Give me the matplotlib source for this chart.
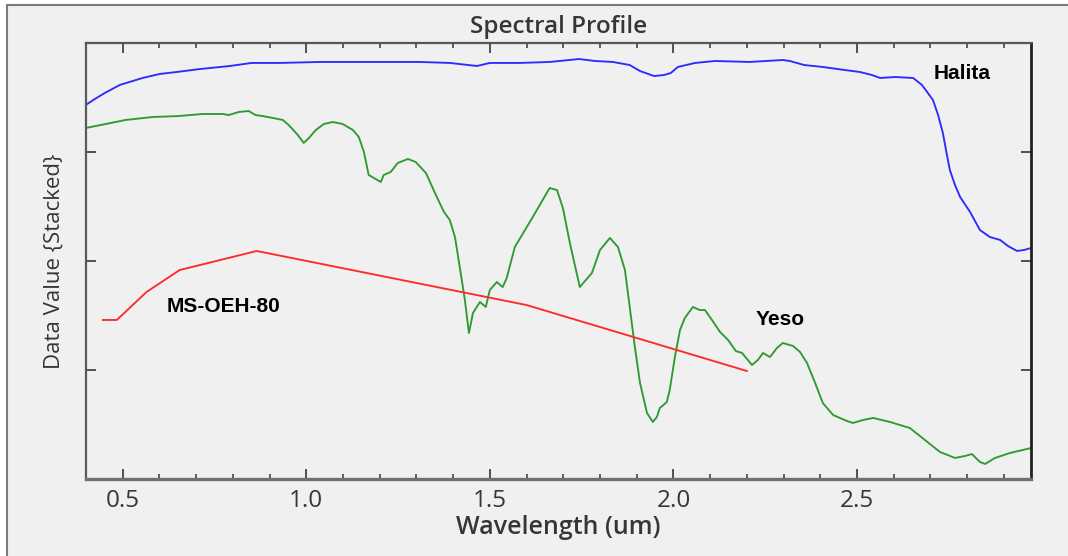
import matplotlib
matplotlib.use("Agg")
import matplotlib.pyplot as plt
from matplotlib.ticker import MultipleLocator, NullFormatter
from matplotlib.lines import Line2D

# Wavelength (um) and stacked data values for each spectrum
halita_wl = [0.399, 0.424, 0.451, 0.492, 0.554, 0.601, 0.647, 0.710, 0.792, 0.851,
             0.928, 1.037, 1.187, 1.309, 1.391, 1.465, 1.500, 1.582, 1.663, 1.743,
             1.786, 1.835, 1.881, 1.909, 1.947, 1.974, 1.993, 2.012, 2.059, 2.113,
             2.208, 2.298, 2.317, 2.356, 2.407, 2.467, 2.508, 2.541, 2.563, 2.604,
             2.653, 2.677, 2.707, 2.721, 2.734, 2.745, 2.753, 2.767, 2.781, 2.808,
             2.835, 2.862, 2.890, 2.911, 2.936, 2.955, 2.974]
halita_val = [3.431, 3.486, 3.541, 3.615, 3.679, 3.716, 3.734, 3.761, 3.789, 3.817,
              3.817, 3.826, 3.826, 3.826, 3.817, 3.789, 3.817, 3.817, 3.826, 3.853,
              3.835, 3.826, 3.798, 3.743, 3.697, 3.706, 3.725, 3.780, 3.817, 3.835,
              3.826, 3.844, 3.835, 3.798, 3.780, 3.752, 3.734, 3.706, 3.679, 3.688,
              3.679, 3.615, 3.477, 3.339, 3.174, 2.972, 2.835, 2.697, 2.587, 2.450,
              2.284, 2.220, 2.193, 2.138, 2.092, 2.101, 2.119]

yeso_wl = [0.399, 0.454, 0.508, 0.582, 0.653, 0.718, 0.772, 0.789, 0.816, 0.843,
           0.862, 0.881, 0.909, 0.936, 0.952, 0.977, 0.993, 1.007, 1.026, 1.048,
           1.072, 1.099, 1.127, 1.143, 1.157, 1.170, 1.189, 1.203, 1.211, 1.230,
           1.249, 1.277, 1.298, 1.326, 1.353, 1.375, 1.391, 1.405, 1.418, 1.432,
           1.443, 1.454, 1.473, 1.489, 1.500, 1.519, 1.535, 1.546, 1.568, 1.617,
           1.663, 1.683, 1.699, 1.718, 1.745, 1.778, 1.800, 1.827, 1.849, 1.868,
           1.881, 1.895, 1.909, 1.928, 1.944, 1.955, 1.963, 1.982, 1.990, 2.004,
           2.018, 2.031, 2.053, 2.072, 2.086, 2.105, 2.127, 2.149, 2.170, 2.187,
           2.214, 2.230, 2.244, 2.263, 2.282, 2.298, 2.326, 2.345, 2.364, 2.386,
           2.407, 2.435, 2.473, 2.489, 2.516, 2.544, 2.590, 2.644, 2.685, 2.726,
           2.767, 2.794, 2.813, 2.835, 2.849, 2.876, 2.917, 2.974]
yeso_val = [3.220, 3.257, 3.294, 3.321, 3.330, 3.349, 3.349, 3.339, 3.367, 3.376,
            3.339, 3.330, 3.312, 3.294, 3.248, 3.156, 3.083, 3.128, 3.202, 3.257,
            3.275, 3.257, 3.202, 3.138, 3.000, 2.789, 2.752, 2.725, 2.789, 2.817,
            2.899, 2.936, 2.908, 2.807, 2.606, 2.450, 2.376, 2.220, 1.945, 1.642,
            1.339, 1.523, 1.624, 1.578, 1.734, 1.807, 1.761, 1.844, 2.128, 2.404,
            2.670, 2.651, 2.486, 2.165, 1.761, 1.890, 2.101, 2.211, 2.128, 1.917,
            1.578, 1.211, 0.881, 0.606, 0.523, 0.569, 0.651, 0.706, 0.817, 1.119,
            1.367, 1.477, 1.578, 1.550, 1.550, 1.459, 1.349, 1.275, 1.174, 1.156,
            1.046, 1.092, 1.156, 1.119, 1.202, 1.248, 1.220, 1.165, 1.064, 0.881,
            0.697, 0.587, 0.532, 0.514, 0.541, 0.560, 0.523, 0.468, 0.358, 0.248,
            0.193, 0.211, 0.229, 0.156, 0.138, 0.193, 0.239, 0.284]

ms_wl = [0.446, 0.484, 0.565, 0.655, 0.865, 1.600, 2.200]
ms_val = [1.459, 1.459, 1.716, 1.917, 2.092, 1.596, 0.991]

spectra = [
    ("Halita", halita_wl, halita_val, "#2b2bff"),
    ("Yeso", yeso_wl, yeso_val, "#2f9a2f"),
    ("MS-OEH-80", ms_wl, ms_val, "#ff2a2a"),
]
label_pos = {"Halita": (2.71, 3.72), "Yeso": (2.225, 1.46), "MS-OEH-80": (0.62, 1.585)}

x_range = (0.40, 2.974)
y_range = (0.0, 4.0)
x_major = [0.5, 1.0, 1.5, 2.0, 2.5]

bg = "#f0f0f0"
txt = "#363636"
ui_font = ["Open Sans", "DejaVu Sans"]

fig = plt.figure(figsize=(10.68, 5.56), dpi=100)
fig.patch.set_facecolor("white")

# window frame: grey panel with thin darker edges at top and left
fig.add_artist(plt.Rectangle((7 / 1068, 0), 1, (556 - 5) / 556,
                             transform=fig.transFigure, facecolor=bg,
                             edgecolor="none", zorder=0))
fig.add_artist(Line2D([7 / 1068, 1], [(556 - 5) / 556] * 2,
                      transform=fig.transFigure, color="#7a7a7a", lw=1.5))
fig.add_artist(Line2D([7 / 1068] * 2, [0, (556 - 5) / 556],
                      transform=fig.transFigure, color="#7a7a7a", lw=1.5))

ax = fig.add_axes([86 / 1068, 77 / 556, (1031 - 86) / 1068, (479 - 43) / 556])
ax.set_facecolor(bg)

for name, wl, val, col in spectra:
    ax.plot(wl, val, color=col, lw=1.35, solid_joinstyle="round")
    lx, ly = label_pos[name]
    ax.text(lx, ly, name, fontsize=15, fontweight="bold",
            family=["Liberation Sans", "DejaVu Sans"], color="black",
            va="center", ha="left")

ax.set_xlim(*x_range)
ax.set_ylim(*y_range)
ax.set_xticks(x_major)
ax.set_xticklabels([f"{v:.1f}" for v in x_major])
ax.xaxis.set_minor_locator(MultipleLocator(0.1))
ax.yaxis.set_major_formatter(NullFormatter())
ax.set_yticks([1, 2, 3])

ax.tick_params(axis="x", which="major", direction="in", length=7, width=1.3,
               top=True, bottom=True, color="#444444", pad=7,
               labelsize=17.5, labelcolor=txt)
ax.tick_params(axis="x", which="minor", direction="in", length=3.5, width=1.2,
               top=True, bottom=True, color="#444444")
ax.tick_params(axis="y", which="major", direction="in", length=7, width=1.3,
               left=True, right=True, color="#444444")
for lab in ax.get_xticklabels():
    lab.set_family(ui_font)

ax.spines["left"].set_color("#5a5a5a")
ax.spines["left"].set_linewidth(1.6)
ax.spines["top"].set_color("#555555")
ax.spines["top"].set_linewidth(1.6)
ax.spines["right"].set_color("#222222")
ax.spines["right"].set_linewidth(2.0)
ax.spines["bottom"].set_color("#707070")
ax.spines["bottom"].set_linewidth(2.4)

ax.set_title("Spectral Profile", fontsize=17.5, family=ui_font,
             fontweight="semibold", color=txt, pad=7)
ax.set_xlabel("Wavelength (um)", fontsize=18, family=ui_font,
              fontweight="semibold", color=txt, labelpad=2)
ax.set_ylabel("Data Value {Stacked}", fontsize=16, family=ui_font,
              color=txt, labelpad=12)

fig.savefig("out.png", dpi=100, facecolor=fig.get_facecolor())
